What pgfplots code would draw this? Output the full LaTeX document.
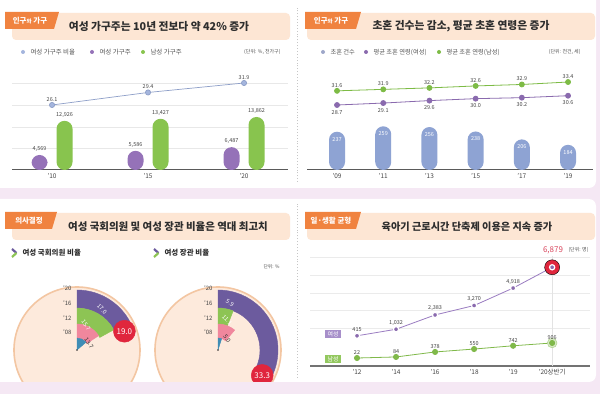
\documentclass[border=0pt]{standalone}
\usepackage{fontspec}
\setmainfont{Noto Sans CJK KR}
\usepackage{pgfplots}
\usepackage{pgfplotstable}
\pgfplotsset{compat=1.18}
\pgfplotsset{/pgf/number format/assume math mode=true, /pgf/number format/1000 sep={,}}
\newcommand{\fs}[1]{\fontsize{#1}{#1}\selectfont}
\definecolor{bgLav}{HTML}{F5E8F4}
\definecolor{banner}{HTML}{FDE6D4}
\definecolor{tabO}{HTML}{F08340}
\definecolor{titleC}{HTML}{2E2E2E}
\definecolor{legC}{HTML}{555555}
\definecolor{labC}{HTML}{444444}
\definecolor{tickC}{HTML}{444444}
\definecolor{axisG}{HTML}{5A5A5A}
\definecolor{pPur}{HTML}{9572B8}
\definecolor{pGrn}{HTML}{88C44E}
\definecolor{p1dot}{HTML}{A4B5DD}
\definecolor{p1line}{HTML}{8E9FC8}
\definecolor{p2bar}{HTML}{8EA3D3}
\definecolor{p2dot}{HTML}{9EA7C9}
\definecolor{p2pur}{HTML}{8A6AAE}
\definecolor{p2grn}{HTML}{7DBB45}
\definecolor{ringA}{HTML}{6C5B9E}
\definecolor{ringB}{HTML}{8DC454}
\definecolor{ringC}{HTML}{F0879D}
\definecolor{ringD}{HTML}{3F8DB5}
\definecolor{redC}{HTML}{E0263D}
\definecolor{peach}{HTML}{FDEADC}
\definecolor{peachE}{HTML}{F3C6A2}
\definecolor{p4pur}{HTML}{9A7CC1}
\definecolor{p4grn}{HTML}{80B94A}
\definecolor{p4purBox}{HTML}{A78FCA}
\definecolor{p4grnBox}{HTML}{93C85F}
\definecolor{redLab}{HTML}{D9475E}

\pgfplotstableread{
x y lab
0 415 415
1 1032 1,032
2 2383 2,383
3 3270 3,270
4 4918 4,918
5 6879 {}
}\femtab

\begin{document}
\begin{tikzpicture}
\begin{scope}[x=1bp,y=1bp]
% ---------- background ----------
\fill[bgLav] (0,0) rectangle (600,394);
\fill[white,rounded corners=7bp] (-10,206) rectangle (596,404);
\fill[white,rounded corners=7bp] (-10,12) rectangle (596,195);
\draw[gray!45,dotted,line width=0.9bp] (297,212)--(297,388);
\draw[gray!45,dotted,line width=0.9bp] (297,16)--(297,190);

% ---------- headers ----------
\fill[banner,rounded corners=4bp] (12,354) rectangle (290,381);
\fill[tabO] (5,365)--(5,382)--(59,382)--(54,365)--cycle;
\node[text=white,font=\fs{7.5}\bfseries] at (30,373.5) {인구{\fs{5.5}와} 가구};
\node[text=titleC,font=\fs{10.8}\bfseries] at (159,368) {여성 가구주는 10년 전보다 약 42\% 증가};

\fill[banner,rounded corners=4bp] (307,354) rectangle (595,381);
\fill[tabO] (305,365)--(305,382)--(361,382)--(356,365)--cycle;
\node[text=white,font=\fs{7.5}\bfseries] at (331,373.5) {인구{\fs{5.5}와} 가구};
\node[text=titleC,font=\fs{10.8}\bfseries] at (461,368) {초혼 건수는 감소, 평균 초혼 연령은 증가};

\fill[banner,rounded corners=4bp] (12,154) rectangle (290,181);
\fill[tabO] (5,165)--(5,182)--(57,182)--(52,165)--cycle;
\node[text=white,font=\fs{7.5}\bfseries] at (29,173.5) {의사결정};
\node[text=titleC,font=\fs{10.5}\bfseries] at (168,167) {여성 국회의원 및 여성 장관 비율은 역대 최고치};

\fill[banner,rounded corners=4bp] (307,154) rectangle (595,181);
\fill[tabO] (305,165)--(305,182)--(361,182)--(356,165)--cycle;
\node[text=white,font=\fs{7.5}\bfseries] at (331,173.5) {일·생활 균형};
\node[text=titleC,font=\fs{10.2}\bfseries] at (467,167) {육아기 근로시간 단축제 이용은 지속 증가};

% ---------- legends ----------
\fill[p1dot] (23,342) circle (2bp);
\node[anchor=west,text=legC,font=\fs{6.5}] at (27,342) {여성 가구주 비율};
\fill[pPur] (92,342) circle (2bp);
\node[anchor=west,text=legC,font=\fs{6.5}] at (96,342) {여성 가구주};
\fill[pGrn] (143,342) circle (2bp);
\node[anchor=west,text=legC,font=\fs{6.5}] at (147,342) {남성 가구주};
\node[anchor=east,text=legC,font=\fs{5}] at (284,342) {(단위: \%, 천가구)};

\fill[p2dot] (323,342) circle (2bp);
\node[anchor=west,text=legC,font=\fs{6.3}] at (327,342) {초혼 건수};
\fill[p2pur] (366,342) circle (2bp);
\node[anchor=west,text=legC,font=\fs{6.3}] at (370,342) {평균 초혼 연령(여성)};
\fill[p2grn] (439,342) circle (2bp);
\node[anchor=west,text=legC,font=\fs{6.3}] at (443,342) {평균 초혼 연령(남성)};
\node[anchor=east,text=legC,font=\fs{5}] at (584,342) {(단위: 천건, 세)};

\draw[ringA,line width=2.2bp] (12,145)--(16.5,141);
\draw[ringB,line width=2.2bp] (16.5,141)--(12,137);
\node[anchor=west,text=titleC,font=\fs{7.5}\bfseries] at (19,141) {여성 국회의원 비율};
\draw[ringA,line width=2.2bp] (154,145)--(158.5,141);
\draw[ringB,line width=2.2bp] (158.5,141)--(154,137);
\node[anchor=west,text=titleC,font=\fs{7.5}\bfseries] at (161,141) {여성 장관 비율};
\node[anchor=east,text=legC,font=\fs{4.8}] at (283,127) {단위: \%};
\end{scope}

% ---------- panel 1 ----------
\begin{axis}[at={(12bp,224bp)},anchor=south west,scale only axis,width=276bp,height=100bp,
  xmin=-0.417,xmax=2.458,ymin=900,ymax=25350,scaled y ticks=false,
  axis x line*=bottom,axis y line*=left,
  x axis line style={draw=axisG,line width=1bp,-},
  y axis line style={draw=none},
  xtick={0,1,2},xticklabels={'10,'15,'20},major tick length=0pt,
  xticklabel style={font=\fs{6.5},text=tickC},
  ytick={6279,11413,16792,22171},yticklabels={},
  ymajorgrids,grid style={gray!18,line width=0.5bp},
  ybar=9bp,bar width=16bp,
  nodes near coords,every node near coord/.append style={font=\fs{5.5},text=labC}]
\addplot[fill=pPur,draw=none,rounded corners=8bp] coordinates {(0,4569) (1,5586) (2,6487)};
\addplot[fill=pGrn,draw=none,rounded corners=8bp] coordinates {(0,12926) (1,13427) (2,13862)};
\end{axis}
\begin{axis}[at={(12bp,224bp)},anchor=south west,scale only axis,width=276bp,height=100bp,
  xmin=-0.417,xmax=2.458,ymin=8.95,ymax=35.33,hide axis,clip=false,
  nodes near coords,every node near coord/.append style={font=\fs{5.5},text=labC},
  /pgf/number format/fixed,/pgf/number format/fixed zerofill,/pgf/number format/precision=1]
\addplot[color=p1line,line width=0.7bp,mark=*,mark size=2.6bp,mark options={fill=p1dot,draw=none}]
  coordinates {(0,26.1) (1,29.4) (2,31.9)};
\end{axis}

% ---------- panel 2 ----------
\begin{axis}[at={(307bp,224bp)},anchor=south west,scale only axis,width=286bp,height=100bp,
  xmin=-0.65,xmax=5.54,ymin=82,ymax=487,scaled y ticks=false,
  axis x line*=bottom,axis y line=none,
  x axis line style={draw=axisG,line width=1bp,-},
  xtick={0,...,5},xticklabels={'09,'11,'13,'15,'17,'19},major tick length=0pt,
  xticklabel style={font=\fs{6.5},text=tickC},
  ybar,bar width=16bp,
  nodes near coords,every node near coord/.append style={font=\fs{5.5},text=white,yshift=-13bp}]
\addplot[fill=p2bar,draw=none,rounded corners=8bp] coordinates {(0,237) (1,259) (2,256) (3,238) (4,206) (5,184)};
\end{axis}
\begin{axis}[at={(307bp,224bp)},anchor=south west,scale only axis,width=286bp,height=100bp,
  xmin=-0.65,xmax=5.54,ymin=15.41,ymax=35.86,hide axis,clip=false,
  /pgf/number format/fixed,/pgf/number format/fixed zerofill,/pgf/number format/precision=1]
\addplot[color=p2grn,line width=0.8bp,mark=*,mark size=2.5bp,mark options={fill=p2grn,draw=none},
  nodes near coords,every node near coord/.append style={font=\fs{5.5},text=labC}]
  coordinates {(0,31.6) (1,31.9) (2,32.2) (3,32.6) (4,32.9) (5,33.4)};
\addplot[color=p2pur,line width=0.8bp,mark=*,mark size=2.5bp,mark options={fill=p2pur,draw=none},
  nodes near coords,every node near coord/.append style={font=\fs{5.5},text=labC,yshift=-13bp}]
  coordinates {(0,28.7) (1,29.1) (2,29.6) (3,30.0) (4,30.2) (5,30.6)};
\end{axis}

% ---------- panel 3 ----------
\begin{axis}[at={(0bp,0bp)},anchor=origin,x=1bp,y=1bp,xmin=0,xmax=297,ymin=12,ymax=195,hide axis,clip=false]
\addplot[only marks,mark=*,mark size=63bp,mark options={fill=peach,draw=peachE,line width=1.6bp}]
  coordinates {(77,56) (218,56)};
\addplot[only marks,scatter,mark=*,mark size=0.01bp,mark options={draw=none,fill=none},
  visualization depends on={value \thisrow{v}\as\RingV},
  visualization depends on={value \thisrow{ri}\as\RingIn},
  visualization depends on={value \thisrow{ro}\as\RingOut},
  visualization depends on={value \thisrow{c}\as\RingCol},
  scatter/@pre marker code/.code={%
    \pgfmathsetmacro\RingEnd{90-3.6*\RingV}%
    \fill[\RingCol] (90:\RingOut bp) arc[start angle=90,end angle=\RingEnd,radius=\RingOut bp]
      -- (\RingEnd:\RingIn bp) arc[start angle=\RingEnd,end angle=90,radius=\RingIn bp] -- cycle;},
  scatter/@post marker code/.code={}]
  table[x=x,y=y] {
x y v ri ro c
77 56 19.0 42 60 ringA
218 56 33.3 42 60 ringA
77 56 17.0 26 42 ringB
218 56 5.9 26 42 ringB
77 56 15.7 12 26 ringC
218 56 11.1 12 26 ringC
77 56 13.7 0.01 12 ringD
218 56 5.0 0.01 12 ringD
};
\addplot[only marks,scatter,mark=*,mark size=0.01bp,mark options={draw=none,fill=none},
  visualization depends on={value \thisrow{v}\as\RingV},
  visualization depends on={value \thisrow{lab}\as\RingLab},
  scatter/@pre marker code/.code={%
    \pgfmathsetmacro\RingEnd{90-3.6*\RingV}%
    \fill[redC] (\RingEnd:51bp) circle[radius=11bp];
    \node[text=white,font=\fs{8}] at (\RingEnd:51bp) {\RingLab};},
  scatter/@post marker code/.code={}]
  table[x=x,y=y] {
x y v lab
77 56 19.0 19.0
218 56 33.3 33.3
};
\end{axis}

% ---------- panel 4 ----------
\begin{axis}[at={(310bp,28bp)},anchor=south west,scale only axis,width=280bp,height=110bp,
  xmin=-1.205,xmax=5.97,ymin=-2434,ymax=7943,scaled y ticks=false,
  axis x line*=bottom,axis y line*=left,
  x axis line style={draw=axisG!85,line width=1.6bp,-},
  y axis line style={draw=none},
  xtick={0,...,5},xticklabels={'12,'14,'16,'18,'19,'20상반기},major tick length=0pt,
  xticklabel style={font=\fs{6.5},text=tickC},
  ytick={1151,2849,4453,6151,7849},yticklabels={},
  ymajorgrids,grid style={gray!16,line width=0.5bp},
  extra x ticks={5},extra x tick labels={},extra x tick style={grid=major,major grid style={gray!22,line width=0.5bp}},
  clip=false]
\addplot[only marks,mark=*,mark size=7.5bp,mark options={fill=redC,draw=none}] coordinates {(5,6879)};
\addplot[color=p4pur,line width=0.8bp,mark=*,mark size=2.6bp,mark options={fill=p2pur,draw=white,line width=1.2bp},
  nodes near coords,point meta=explicit symbolic,every node near coord/.append style={font=\fs{5.5},text=labC}]
  table[x=x,y=y,meta=lab] \femtab;
\end{axis}
\begin{axis}[at={(310bp,28bp)},anchor=south west,scale only axis,width=280bp,height=110bp,
  xmin=-1.205,xmax=5.97,ymin=-448,ymax=6022,hide axis,clip=false]
\addplot[only marks,mark=*,mark size=4.8bp,mark options={fill=p4grn!30,draw=p4grn!60,line width=0.6bp}] coordinates {(5,906)};
\addplot[color=p4grn,line width=0.8bp,mark=*,mark size=2.6bp,mark options={fill=p4grn,draw=none},
  nodes near coords,every node near coord/.append style={font=\fs{5.5},text=labC}]
  coordinates {(0,22) (1,84) (2,378) (3,550) (4,742) (5,906)};
\end{axis}

\begin{scope}[x=1bp,y=1bp]
\foreach \cx in {75,216}{
  \node[anchor=east,text=tickC,font=\fs{6}] at (\cx,106) {'20};
  \node[anchor=east,text=tickC,font=\fs{6}] at (\cx,91) {'16};
  \node[anchor=east,text=tickC,font=\fs{6}] at (\cx,76) {'12};
  \node[anchor=east,text=tickC,font=\fs{6}] at (\cx,62) {'08};
}
\node[text=white,font=\fs{5.8},rotate=-45,inner sep=0pt] at (102,85) {17.0};
\node[text=white,font=\fs{5.8},rotate=-55,inner sep=0pt] at (86,69) {15.7};
\node[text=titleC,font=\fs{5.8},rotate=-55,inner sep=0pt] at (89,51) {13.7};
\node[text=white,font=\fs{5.8},rotate=-30,inner sep=0pt] at (230,91) {5.9};
\node[text=white,font=\fs{5.8},rotate=-45,inner sep=0pt] at (227,74) {11.1};
\node[text=titleC,font=\fs{5.8},rotate=-55,inner sep=0pt] at (227,55) {5.0};

\node[fill=p4purBox,text=white,font=\fs{6},minimum width=16bp,minimum height=8bp,inner sep=0.5bp] at (333,60) {여성};
\node[fill=p4grnBox,text=white,font=\fs{6},minimum width=16bp,minimum height=8bp,inner sep=0.5bp] at (333,35) {남성};
\node[text=redLab,font=\fs{8}] at (553,144) {6,879};
\node[anchor=west,text=legC,font=\fs{5}] at (565,144) {(단위: 명)};

% bottom band
\fill[bgLav] (0,0) rectangle (600,12);
\end{scope}
\pgfresetboundingbox
\useasboundingbox (0bp,0bp) rectangle (600bp,394bp);
\end{tikzpicture}
\end{document}
